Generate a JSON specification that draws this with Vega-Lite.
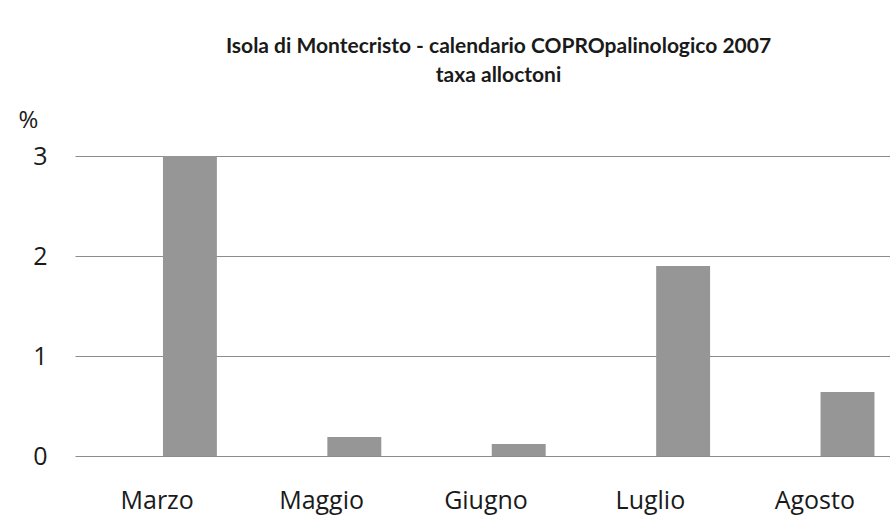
{
  "$schema": "https://vega.github.io/schema/vega-lite/v6.json",
  "width": 815,
  "height": 300,
  "autosize": "none",
  "padding": {"left": 75, "top": 156, "right": 0, "bottom": 61},
  "background": "white",
  "title": {
    "text": "Isola di Montecristo - calendario COPROpalinologico 2007",
    "subtitle": "taxa alloctoni",
    "font": "Lato",
    "fontSize": 21,
    "fontWeight": "bold",
    "color": "#1a1a1a",
    "subtitleFont": "Lato",
    "subtitleFontSize": 21,
    "subtitleFontWeight": "bold",
    "subtitleColor": "#1a1a1a",
    "subtitlePadding": 8,
    "anchor": "middle",
    "dx": 16,
    "offset": 22
  },
  "data": {
    "values": [
      {"mese": "Marzo", "serie": "b", "valore": 3.0},
      {"mese": "Maggio", "serie": "b", "valore": 0.19},
      {"mese": "Giugno", "serie": "b", "valore": 0.12},
      {"mese": "Luglio", "serie": "b", "valore": 1.9},
      {"mese": "Agosto", "serie": "b", "valore": 0.64}
    ]
  },
  "mark": {"type": "bar", "color": "#969696"},
  "encoding": {
    "x": {
      "field": "mese",
      "type": "nominal",
      "sort": ["Marzo", "Maggio", "Giugno", "Luglio", "Agosto"],
      "scale": {"paddingInner": 0, "paddingOuter": 0, "range": [0, 822]},
      "axis": {
        "title": null,
        "labelAngle": 0,
        "labelFont": "Open Sans",
        "labelFontSize": 25,
        "labelColor": "#1a1a1a",
        "labelPadding": 32,
        "ticks": false,
        "domain": false,
        "grid": false
      }
    },
    "xOffset": {
      "field": "serie",
      "scale": {"domain": ["a", "b"], "paddingInner": 0.176, "paddingOuter": 0.344}
    },
    "y": {
      "field": "valore",
      "type": "quantitative",
      "scale": {"domain": [0, 3], "nice": false},
      "axis": {
        "title": "%",
        "titleAngle": 0,
        "titleFont": "Open Sans",
        "titleFontSize": 24,
        "titleFontWeight": "normal",
        "titleColor": "#1a1a1a",
        "titleX": -47,
        "titleY": -29,
        "titleAlign": "center",
        "titleBaseline": "alphabetic",
        "values": [0, 1, 2, 3],
        "format": "d",
        "labelFont": "Open Sans",
        "labelFontSize": 25,
        "labelColor": "#1a1a1a",
        "labelPadding": 35,
        "labelAlign": "center",
        "ticks": false,
        "domain": false,
        "grid": true,
        "gridColor": "#8c8c8c",
        "gridWidth": 1.2
      }
    }
  },
  "config": {"view": {"stroke": null}}
}
